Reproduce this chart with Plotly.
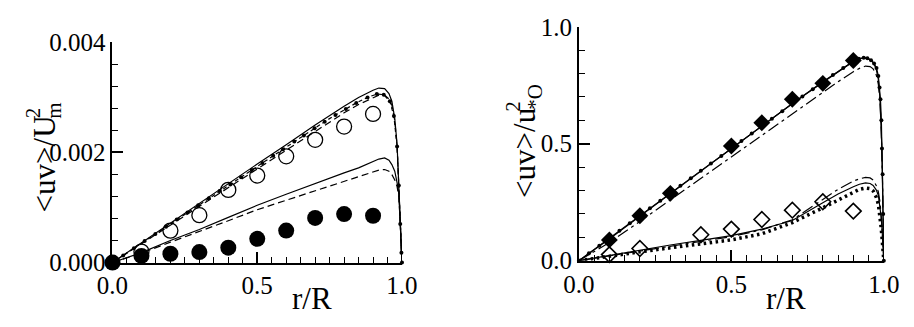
import plotly.graph_objects as go

W, H = 914, 327

# ---------------- left panel: <uv>/Um^2 ----------------
r_pts_left = [0.1, 0.2, 0.3, 0.4, 0.5, 0.6, 0.7, 0.8, 0.9]
uv_open_left = [0.00020, 0.00058, 0.00086, 0.00132, 0.00158, 0.00193, 0.00223, 0.00247, 0.00270]
r_fill_left = [0.0, 0.1, 0.2, 0.3, 0.4, 0.5, 0.6, 0.7, 0.8, 0.9]
uv_fill_left = [0.0, 0.00012, 0.00016, 0.00019, 0.00027, 0.00043, 0.00058, 0.00081, 0.00088, 0.00085]

r_left = [0, 0.1, 0.2, 0.3, 0.4, 0.5, 0.6, 0.7, 0.8, 0.85, 0.9, 0.92, 0.94,
          0.955, 0.965, 0.975, 0.983, 0.989, 0.994, 0.998, 1.0]
uv_solid_hi = [0, 0.00036, 0.00072, 0.00108, 0.00144, 0.00179, 0.00214, 0.00250, 0.00284, 0.00300,
               0.00313, 0.00317, 0.00316, 0.00307, 0.00293, 0.00262, 0.00215, 0.00150, 0.00075, 0.00018, 0]
uv_dash_hi = [0, 0.00034, 0.00068, 0.00102, 0.00137, 0.00171, 0.00205, 0.00239, 0.00272, 0.00287,
              0.00300, 0.00304, 0.00304, 0.00297, 0.00286, 0.00258, 0.00212, 0.00148, 0.00074, 0.00018, 0]
uv_solid_lo = [0, 0.00018, 0.00040, 0.00060, 0.00082, 0.00104, 0.00124, 0.00144, 0.00163, 0.00172,
               0.00184, 0.00188, 0.00190, 0.00186, 0.00178, 0.00166, 0.00145, 0.00125, 0.00070, 0.00018, 0]
uv_dash_lo = [0, 0.00017, 0.00037, 0.00056, 0.00076, 0.00096, 0.00113, 0.00130, 0.00147, 0.00155,
              0.00164, 0.00168, 0.00169, 0.00166, 0.00160, 0.00150, 0.00138, 0.00120, 0.00070, 0.00018, 0]

r_dots_left = [0, 0.037, 0.074, 0.111, 0.148, 0.185, 0.222, 0.259, 0.296, 0.333, 0.37, 0.407, 0.444,
               0.481, 0.518, 0.555, 0.589, 0.628, 0.661, 0.698, 0.733, 0.77, 0.806, 0.842, 0.881,
               0.913, 0.937, 0.958, 0.972, 0.983, 0.989, 0.994, 0.998, 1.0]
uv_dots_left = [0, 0.00013, 0.00026, 0.00039, 0.00052, 0.00065, 0.00078, 0.00091, 0.00104, 0.00117,
                0.00130, 0.00142, 0.00155, 0.00168, 0.00181, 0.00194, 0.00206, 0.00220, 0.00231,
                0.00244, 0.00256, 0.00268, 0.00279, 0.00290, 0.00300, 0.00306, 0.00305, 0.00293,
                0.00266, 0.00211, 0.00140, 0.00070, 0.00018, 0]

# ---------------- right panel: <uv>/u*o^2 ----------------
r_fill_right = [0.1, 0.2, 0.3, 0.5, 0.6, 0.7, 0.8, 0.9]
uv_fill_right = [0.089, 0.192, 0.288, 0.490, 0.590, 0.690, 0.758, 0.856]
r_open_right = [0.1, 0.2, 0.4, 0.5, 0.6, 0.7, 0.8, 0.9]
uv_open_right = [0.026, 0.052, 0.111, 0.135, 0.176, 0.216, 0.252, 0.212]

r_right = [0, 0.1, 0.2, 0.3, 0.4, 0.5, 0.6, 0.7, 0.8, 0.85, 0.9, 0.92, 0.94,
           0.955, 0.965, 0.975, 0.982, 0.987, 0.991, 0.994, 0.997, 1.0]
uv_solid_hi_r = [0, 0.093, 0.190, 0.287, 0.383, 0.480, 0.576, 0.672, 0.765, 0.810, 0.852,
                 0.864, 0.867, 0.860, 0.848, 0.820, 0.775, 0.700, 0.590, 0.470, 0.280, 0]
uv_dashdot_hi_r = [0, 0.078, 0.168, 0.260, 0.352, 0.444, 0.537, 0.628, 0.720, 0.765, 0.808,
                   0.822, 0.832, 0.830, 0.820, 0.795, 0.755, 0.690, 0.585, 0.465, 0.280, 0]
uv_solid_lo_r = [0, 0.022, 0.047, 0.067, 0.087, 0.107, 0.135, 0.172, 0.248, 0.285, 0.316,
                 0.327, 0.333, 0.330, 0.322, 0.303, 0.280, 0.240, 0.190, 0.140, 0.070, 0]
uv_dashdot_lo_r = [0, 0.020, 0.042, 0.062, 0.082, 0.103, 0.132, 0.175, 0.262, 0.305, 0.340,
                   0.350, 0.356, 0.354, 0.345, 0.322, 0.295, 0.255, 0.200, 0.150, 0.070, 0]
uv_dotted_lo_r = [0, 0.020, 0.038, 0.055, 0.072, 0.089, 0.115, 0.163, 0.226, 0.260, 0.295,
                  0.305, 0.311, 0.308, 0.298, 0.272, 0.242, 0.195, 0.145, 0.100, 0.050, 0]

r_dots_right = [0, 0.033, 0.067, 0.1, 0.133, 0.167, 0.2, 0.233, 0.267, 0.3, 0.333, 0.367, 0.4,
                0.433, 0.467, 0.5, 0.533, 0.567, 0.6, 0.633, 0.667, 0.7, 0.733, 0.767, 0.8,
                0.833, 0.867, 0.9, 0.918, 0.934, 0.946, 0.958, 0.968, 0.976, 0.982, 0.986,
                0.989, 0.992, 0.994, 0.996, 0.998, 1.0]
uv_dots_right = [0, 0.032, 0.064, 0.096, 0.128, 0.160, 0.192, 0.224, 0.256, 0.288, 0.320, 0.352,
                 0.384, 0.416, 0.448, 0.480, 0.512, 0.544, 0.576, 0.607, 0.639, 0.671, 0.702,
                 0.733, 0.764, 0.794, 0.824, 0.852, 0.863, 0.867, 0.865, 0.857, 0.843, 0.824,
                 0.790, 0.740, 0.690, 0.600, 0.480, 0.370, 0.200, 0]

FONT = "Liberation Serif"
LW = 1.2

fig = go.Figure()


def line(x, y, axes, dash="solid", width=LW, mode="lines", marker=None):
    fig.add_trace(go.Scatter(
        x=x, y=y, mode=mode, xaxis=axes[0], yaxis=axes[1],
        line=dict(color="black", width=width, dash=dash),
        marker=marker, showlegend=False, cliponaxis=False, hoverinfo="skip"))


L = ("x", "y")
R = ("x2", "y2")

# left: model curves
line(r_left, uv_solid_hi, L)
line(r_left, uv_dash_hi, L, dash="7px,4px")
line(r_dots_left, uv_dots_left, L, dash="4px,3px", mode="lines+markers",
     marker=dict(size=4, color="black"))
line(r_left, uv_solid_lo, L)
line(r_left, uv_dash_lo, L, dash="7px,4px")

# left: measured points
fig.add_trace(go.Scatter(
    x=r_pts_left, y=uv_open_left, mode="markers", xaxis="x", yaxis="y",
    marker=dict(symbol="circle-open", size=15, color="black", line=dict(width=1.3)),
    showlegend=False, cliponaxis=False, hoverinfo="skip"))
fig.add_trace(go.Scatter(
    x=r_fill_left, y=uv_fill_left, mode="markers", xaxis="x", yaxis="y",
    marker=dict(symbol="circle", size=16, color="black"),
    showlegend=False, cliponaxis=False, hoverinfo="skip"))

# right: model curves
line(r_right, uv_solid_hi_r, R)
line(r_right, uv_dashdot_hi_r, R, dash="12px,4px,3px,4px")
line(r_dots_right, uv_dots_right, R, mode="lines+markers", marker=dict(size=4, color="black"))
line(r_right, uv_solid_lo_r, R)
line(r_right, uv_dashdot_lo_r, R, dash="12px,4px,3px,4px")
line(r_right, uv_dotted_lo_r, R, dash="2.5px,3.5px", width=3.5)

# right: measured points
fig.add_trace(go.Scatter(
    x=r_fill_right, y=uv_fill_right, mode="markers", xaxis="x2", yaxis="y2",
    marker=dict(symbol="diamond", size=13, color="black"),
    showlegend=False, cliponaxis=False, hoverinfo="skip"))
fig.add_trace(go.Scatter(
    x=r_open_right, y=uv_open_right, mode="markers", xaxis="x2", yaxis="y2",
    marker=dict(symbol="diamond-open", size=12, color="black", line=dict(width=1.6)),
    showlegend=False, cliponaxis=False, hoverinfo="skip"))


def axis_style(dtick, minor_dtick, fmt, rng, domain, anchor):
    return dict(
        range=rng, domain=domain, anchor=anchor, dtick=dtick, tick0=0, tickformat=fmt,
        showgrid=False, zeroline=False, showline=True, linecolor="black", linewidth=1.8,
        ticks="inside", ticklen=11, tickwidth=1.5, tickcolor="black",
        tickfont=dict(family=FONT, size=25, color="black"),
        minor=dict(dtick=minor_dtick, tick0=0, ticks="inside", ticklen=6, tickwidth=1.3,
                   tickcolor="black", showgrid=False),
        mirror=False, fixedrange=True)


def fx(px):
    return px / W


def fy(py):
    return 1 - py / H


fig.update_layout(
    width=W, height=H, margin=dict(l=0, r=0, t=0, b=0),
    paper_bgcolor="white", plot_bgcolor="white",
    font=dict(family=FONT),
    xaxis=axis_style(0.5, 0.05, ".1f", [0, 1], [fx(100), fx(400)], "y"),
    yaxis=axis_style(0.002, 0.0004, ".3f", [0, 0.004], [fy(272), fy(32)], "x"),
    xaxis2=axis_style(0.5, 0.05, ".1f", [0, 1], [fx(583.3), fx(899.3)], "y2"),
    yaxis2=axis_style(0.5, 0.1, ".1f", [0, 1], [fy(270), fy(15)], "x2"),
)


def label(text, px, py, size=31, angle=0):
    fig.add_annotation(text=text, x=fx(px), y=fy(py), xref="paper", yref="paper",
                       showarrow=False, textangle=angle, xanchor="center", yanchor="middle",
                       font=dict(family=FONT, size=size, color="black"))


# x-axis titles
label("r/R", 307, 311)
label("r/R", 798, 311)

# left y title: <uv>/U with stacked m (sub) and 2 (sup)
label("&lt;uv&gt;/U", 30, 164, angle=-90)
label("m", 40, 107, size=21, angle=-90)
label("2", 18, 109, size=21, angle=-90)

# right y title: <uv>/u with stacked *O (sub) and 2 (sup)
label("&lt;uv&gt;/u", 527, 153, angle=-90)
label("*O", 538, 91, size=21, angle=-90)
label("2", 515, 101, size=21, angle=-90)

fig.write_html("out.html")
